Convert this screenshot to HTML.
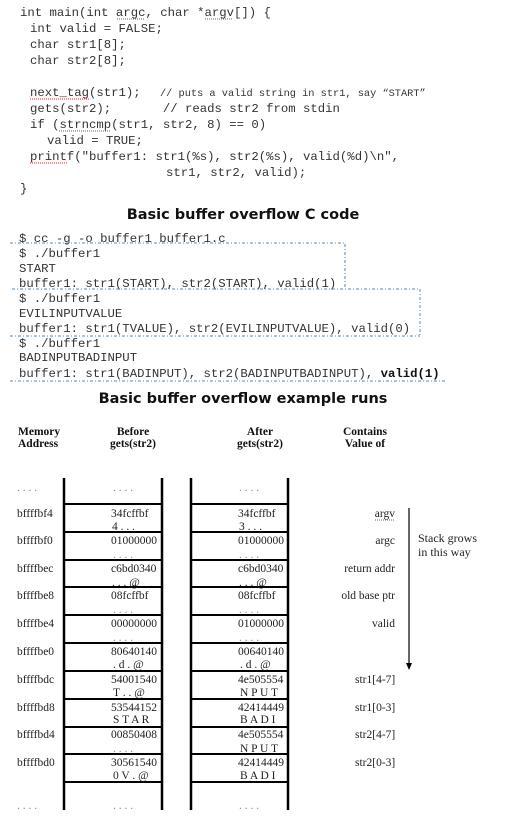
<!DOCTYPE html>
<html><head><meta charset="utf-8"><style>
html,body{margin:0;padding:0;background:#fff;}
svg{display:block}
text{white-space:pre}
.m{font-family:"Liberation Mono",monospace;font-size:12.3px;fill:#333}
.t{font-family:"DejaVu Sans","Liberation Sans",sans-serif;font-weight:bold;font-size:14.5px;fill:#111}
.s{font-family:"Liberation Serif",serif;font-size:11.5px;fill:#222}
.h{font-family:"Liberation Serif",serif;font-size:11.5px;font-weight:bold;fill:#111}
.d{stroke:#5a8ab0;stroke-width:1;stroke-dasharray:3,2,1,2;fill:none}
.u{stroke:#d33;stroke-width:1;stroke-dasharray:1,1}
</style></head><body>
<svg width="524" height="827" viewBox="0 0 524 827" xmlns="http://www.w3.org/2000/svg" xml:space="preserve">
<g class="m">
<text x="20" y="16">int main(int argc, char *argv[]) {</text>
<text x="30" y="32">int valid = FALSE;</text>
<text x="30" y="48">char str1[8];</text>
<text x="30" y="64">char str2[8];</text>
<text x="30" y="96">next_tag(str1);  </text>
<text x="160" y="96" font-size="10.3">// puts a valid string in str1, say “START”</text>
<text x="30" y="112">gets(str2);       // reads str2 from stdin</text>
<text x="30" y="128">if (strncmp(str1, str2, 8) == 0)</text>
<text x="47" y="144">valid = TRUE;</text>
<text x="30" y="160">printf("buffer1: str1(%s), str2(%s), valid(%d)\n",</text>
<text x="166" y="176">str1, str2, valid);</text>
<text x="20" y="192">}</text>
</g>
<line class="u" x1="117" y1="19" x2="145" y2="19"/><line class="u" x1="205" y1="19" x2="233" y2="19"/>
<line class="u" x1="30" y1="99" x2="89" y2="99"/><line class="u" x1="59" y1="131" x2="111" y2="131"/><line class="u" x1="30" y1="163" x2="67" y2="163"/>
<text class="t" x="243" y="219" text-anchor="middle">Basic buffer overflow C code</text>
<g class="m">
<text x="19" y="242">$ cc -g -o buffer1 buffer1.c</text>
<text x="19" y="257">$ ./buffer1</text>
<text x="19" y="272">START</text>
<text x="19" y="287">buffer1: str1(START), str2(START), valid(1)</text>
<text x="19" y="302">$ ./buffer1</text>
<text x="19" y="317">EVILINPUTVALUE</text>
<text x="19" y="332">buffer1: str1(TVALUE), str2(EVILINPUTVALUE), valid(0)</text>
<text x="19" y="347">$ ./buffer1</text>
<text x="19" y="361">BADINPUTBADINPUT</text>
<text x="19" y="377">buffer1: str1(BADINPUT), str2(BADINPUTBADINPUT), <tspan font-weight="bold" fill="#111">valid(1)</tspan></text>
</g>
<path class="d" d="M10 243H345V288"/>
<path class="d" d="M12 289H420V336"/>
<path class="d" d="M10 336H420"/>
<path class="d" d="M10 381H447"/>
<text class="t" x="243" y="403" text-anchor="middle">Basic buffer overflow example runs</text>
<g class="h">
<text x="18" y="435">Memory</text><text x="18" y="447">Address</text>
<text x="133" y="435" text-anchor="middle">Before</text><text x="133" y="447" text-anchor="middle">gets(str2)</text>
<text x="260" y="435" text-anchor="middle">After</text><text x="260" y="447" text-anchor="middle">gets(str2)</text>
<text x="365" y="435" text-anchor="middle">Contains</text><text x="365" y="447" text-anchor="middle">Value of</text>
</g>
<g stroke="#000" stroke-width="2.5">
<line x1="64" y1="478" x2="64" y2="810"/><line x1="162" y1="478" x2="162" y2="810"/>
<line x1="191" y1="478" x2="191" y2="810"/><line x1="288" y1="478" x2="288" y2="810"/>
</g>
<g stroke="#000" stroke-width="2">
<path d="M64 504H162M64 532H162M64 560H162M64 587H162M64 615H162M64 643H162M64 671H162M64 699H162M64 727H162M64 754H162M64 782H162"/>
<path d="M191 504H288M191 532H288M191 560H288M191 587H288M191 615H288M191 643H288M191 671H288M191 699H288M191 727H288M191 754H288M191 782H288"/>
</g>
<g class="s">
<text x="17" y="491" fill="#888">. . . .</text><text x="113" y="491" fill="#888">. . . .</text><text x="239" y="491" fill="#888">. . . .</text>
<text x="17" y="809" fill="#888">. . . .</text><text x="113" y="809" fill="#888">. . . .</text><text x="239" y="809" fill="#888">. . . .</text>

<text x="17" y="517">bffffbf4</text><text x="111" y="517">34fcffbf</text><text x="112" y="530">4 . . .</text><text x="238" y="517">34fcffbf</text><text x="239" y="530">3 . . .</text>
<text x="17" y="544">bffffbf0</text><text x="111" y="544">01000000</text><text x="113" y="558" fill="#888">. . . .</text><text x="238" y="544">01000000</text><text x="239" y="558" fill="#888">. . . .</text>
<text x="17" y="572">bffffbec</text><text x="111" y="572">c6bd0340</text><text x="112" y="586">. . . @</text><text x="238" y="572">c6bd0340</text><text x="239" y="586">. . . @</text>
<text x="17" y="599">bffffbe8</text><text x="111" y="599">08fcffbf</text><text x="113" y="613" fill="#888">. . . .</text><text x="238" y="599">08fcffbf</text><text x="239" y="613" fill="#888">. . . .</text>
<text x="17" y="627">bffffbe4</text><text x="111" y="627">00000000</text><text x="113" y="641" fill="#888">. . . .</text><text x="238" y="627">01000000</text><text x="239" y="641" fill="#888">. . . .</text>
<text x="17" y="655">bffffbe0</text><text x="111" y="655">80640140</text><text x="113" y="668">. d . @</text><text x="238" y="655">00640140</text><text x="240" y="668">. d . @</text>
<text x="17" y="683">bffffbdc</text><text x="111" y="683">54001540</text><text x="113" y="696">T . . @</text><text x="238" y="683">4e505554</text><text x="240" y="696">N P U T</text>
<text x="17" y="711">bffffbd8</text><text x="111" y="711">53544152</text><text x="113" y="723">S T A R</text><text x="238" y="711">42414449</text><text x="240" y="723">B A D I</text>
<text x="17" y="738">bffffbd4</text><text x="111" y="738">00850408</text><text x="113" y="752" fill="#888">. . . .</text><text x="238" y="738">4e505554</text><text x="240" y="752">N P U T</text>
<text x="17" y="766">bffffbd0</text><text x="111" y="766">30561540</text><text x="113" y="779">0 V . @</text><text x="238" y="766">42414449</text><text x="240" y="779">B A D I</text>

<text x="395" y="517" text-anchor="end">argv</text>
<text x="395" y="544" text-anchor="end">argc</text>
<text x="395" y="572" text-anchor="end">return addr</text>
<text x="395" y="599" text-anchor="end">old base ptr</text>
<text x="395" y="627" text-anchor="end">valid</text>
<text x="355" y="683">str1[4-7]</text>
<text x="355" y="711">str1[0-3]</text>
<text x="355" y="738">str2[4-7]</text>
<text x="355" y="766">str2[0-3]</text>
<text x="418" y="542" font-size="12">Stack grows</text>
<text x="418" y="556" font-size="12">in this way</text>
</g>
<line class="u" x1="375" y1="520" x2="395" y2="520"/>
<line x1="409" y1="508" x2="409" y2="664" stroke="#000" stroke-width="1.2"/>
<path d="M406 663L409 670L412 663Z" fill="#000"/>
</svg>
</body></html>
